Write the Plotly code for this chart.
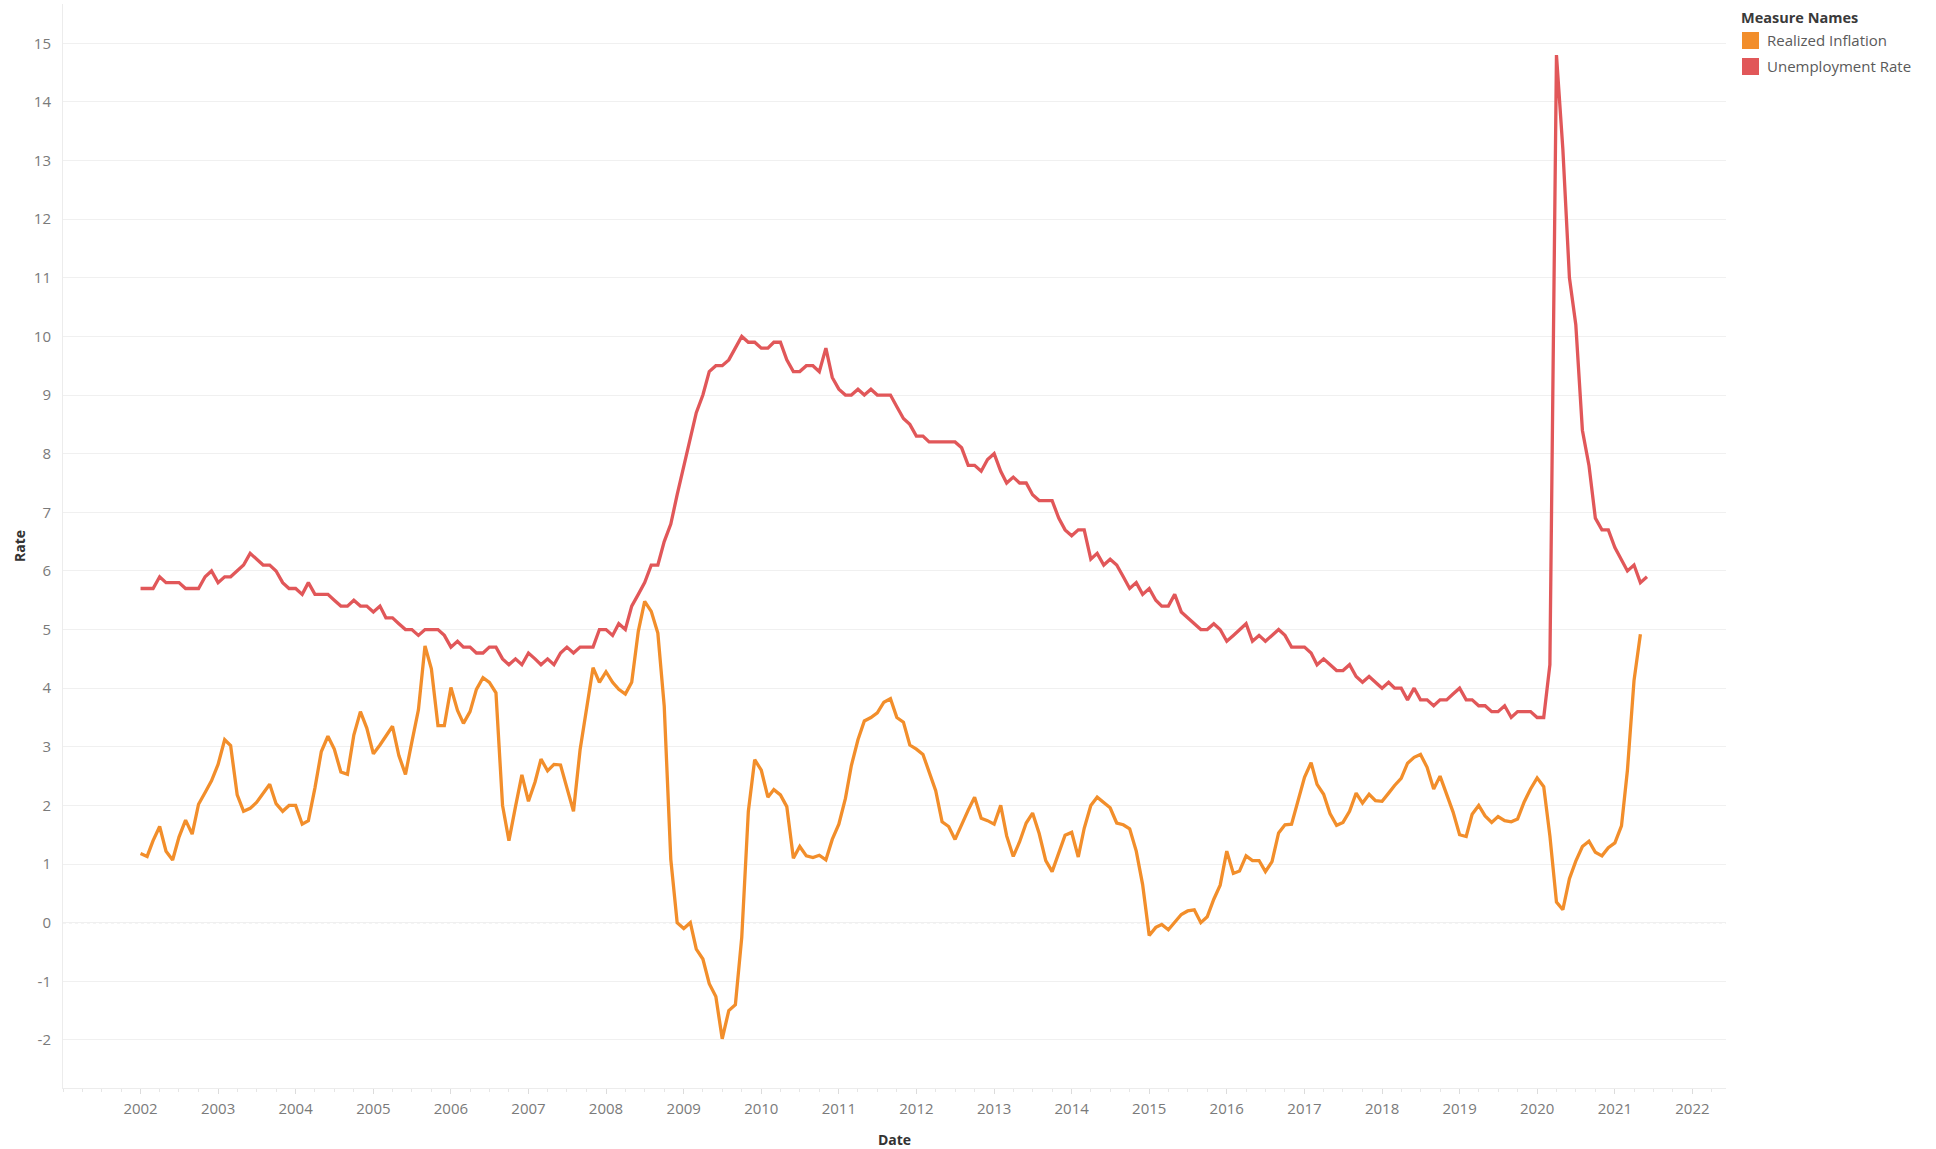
import pandas as pd
import plotly.graph_objects as go

# ---- data ----
start_month = "2002-01-01"

unemployment_rate = [
    5.7, 5.7, 5.7, 5.9, 5.8, 5.8, 5.8, 5.7, 5.7, 5.7, 5.9, 6.0,   # 2002
    5.8, 5.9, 5.9, 6.0, 6.1, 6.3, 6.2, 6.1, 6.1, 6.0, 5.8, 5.7,   # 2003
    5.7, 5.6, 5.8, 5.6, 5.6, 5.6, 5.5, 5.4, 5.4, 5.5, 5.4, 5.4,   # 2004
    5.3, 5.4, 5.2, 5.2, 5.1, 5.0, 5.0, 4.9, 5.0, 5.0, 5.0, 4.9,   # 2005
    4.7, 4.8, 4.7, 4.7, 4.6, 4.6, 4.7, 4.7, 4.5, 4.4, 4.5, 4.4,   # 2006
    4.6, 4.5, 4.4, 4.5, 4.4, 4.6, 4.7, 4.6, 4.7, 4.7, 4.7, 5.0,   # 2007
    5.0, 4.9, 5.1, 5.0, 5.4, 5.6, 5.8, 6.1, 6.1, 6.5, 6.8, 7.3,   # 2008
    7.8, 8.3, 8.7, 9.0, 9.4, 9.5, 9.5, 9.6, 9.8, 10.0, 9.9, 9.9,  # 2009
    9.8, 9.8, 9.9, 9.9, 9.6, 9.4, 9.4, 9.5, 9.5, 9.4, 9.8, 9.3,   # 2010
    9.1, 9.0, 9.0, 9.1, 9.0, 9.1, 9.0, 9.0, 9.0, 8.8, 8.6, 8.5,   # 2011
    8.3, 8.3, 8.2, 8.2, 8.2, 8.2, 8.2, 8.1, 7.8, 7.8, 7.7, 7.9,   # 2012
    8.0, 7.7, 7.5, 7.6, 7.5, 7.5, 7.3, 7.2, 7.2, 7.2, 6.9, 6.7,   # 2013
    6.6, 6.7, 6.7, 6.2, 6.3, 6.1, 6.2, 6.1, 5.9, 5.7, 5.8, 5.6,   # 2014
    5.7, 5.5, 5.4, 5.4, 5.6, 5.3, 5.2, 5.1, 5.0, 5.0, 5.1, 5.0,   # 2015
    4.8, 4.9, 5.0, 5.1, 4.8, 4.9, 4.8, 4.9, 5.0, 4.9, 4.7, 4.7,   # 2016
    4.7, 4.6, 4.4, 4.5, 4.4, 4.3, 4.3, 4.4, 4.2, 4.1, 4.2, 4.1,   # 2017
    4.0, 4.1, 4.0, 4.0, 3.8, 4.0, 3.8, 3.8, 3.7, 3.8, 3.8, 3.9,   # 2018
    4.0, 3.8, 3.8, 3.7, 3.7, 3.6, 3.6, 3.7, 3.5, 3.6, 3.6, 3.6,   # 2019
    3.5, 3.5, 4.4, 14.8, 13.2, 11.0, 10.2, 8.4, 7.8, 6.9, 6.7, 6.7,  # 2020
    6.4, 6.2, 6.0, 6.1, 5.8, 5.9,                                  # 2021
]

realized_inflation = [
    1.18, 1.13, 1.40, 1.64, 1.22, 1.07, 1.46, 1.75, 1.51, 2.02, 2.22, 2.42,      # 2002
    2.70, 3.12, 3.02, 2.18, 1.90, 1.95, 2.05, 2.20, 2.36, 2.03, 1.90, 2.00,      # 2003
    2.00, 1.68, 1.74, 2.30, 2.92, 3.18, 2.96, 2.57, 2.53, 3.20, 3.60, 3.32,      # 2004
    2.88, 3.03, 3.18, 3.35, 2.85, 2.53, 3.08, 3.63, 4.72, 4.33, 3.36, 3.36,      # 2005
    4.01, 3.62, 3.40, 3.60, 3.98, 4.18, 4.10, 3.92, 2.00, 1.40, 1.98, 2.52,      # 2006
    2.07, 2.40, 2.79, 2.59, 2.70, 2.69, 2.30, 1.90, 2.95, 3.65, 4.35, 4.10,      # 2007
    4.28, 4.10, 3.98, 3.90, 4.10, 4.97, 5.48, 5.31, 4.94, 3.70, 1.08, 0.00,      # 2008
    -0.10, 0.00, -0.45, -0.62, -1.04, -1.26, -1.98, -1.50, -1.40, -0.25, 1.90, 2.78,  # 2009
    2.60, 2.14, 2.27, 2.18, 1.98, 1.10, 1.30, 1.14, 1.11, 1.15, 1.07, 1.42,      # 2010
    1.68, 2.12, 2.68, 3.12, 3.44, 3.50, 3.58, 3.76, 3.82, 3.50, 3.42, 3.03,      # 2011
    2.96, 2.87, 2.55, 2.25, 1.72, 1.64, 1.42, 1.68, 1.92, 2.14, 1.78, 1.74,      # 2012
    1.68, 2.00, 1.48, 1.13, 1.38, 1.70, 1.87, 1.52, 1.06, 0.87, 1.20, 1.49,      # 2013
    1.54, 1.12, 1.61, 2.00, 2.14, 2.04, 1.96, 1.70, 1.67, 1.60, 1.22, 0.65,      # 2014
    -0.22, -0.08, -0.03, -0.12, 0.00, 0.14, 0.20, 0.22, 0.00, 0.10, 0.40, 0.64,  # 2015
    1.22, 0.84, 0.88, 1.14, 1.06, 1.06, 0.87, 1.04, 1.53, 1.67, 1.68, 2.05,      # 2016
    2.48, 2.73, 2.36, 2.19, 1.86, 1.66, 1.71, 1.90, 2.21, 2.04, 2.19, 2.08,      # 2017
    2.07, 2.21, 2.34, 2.46, 2.72, 2.82, 2.87, 2.65, 2.28, 2.50, 2.17, 1.89,      # 2018
    1.50, 1.47, 1.85, 2.00, 1.82, 1.71, 1.81, 1.74, 1.72, 1.77, 2.06, 2.28,      # 2019
    2.47, 2.32, 1.48, 0.35, 0.22, 0.75, 1.05, 1.30, 1.39, 1.20, 1.14, 1.28,      # 2020
    1.36, 1.65, 2.60, 4.13, 4.92,                                                # 2021
]

series_names = ["Realized Inflation", "Unemployment Rate"]
series_colors = ["#F28E2B", "#E15759"]
legend_title = "Measure Names"
y_tick_values = list(range(-2, 16))
y_tick_labels = [str(v) for v in y_tick_values]   # plain hyphen minus, as in the original
x_tick_years = list(range(2002, 2023))

dates_u = pd.date_range(start_month, periods=len(unemployment_rate), freq="MS")
dates_i = pd.date_range(start_month, periods=len(realized_inflation), freq="MS")
x_tick_dates = [f"{y}-01-01" for y in x_tick_years]

FONT = "'Open Sans', sans-serif"
W, H = 1936, 1149
ML, MR, MT, MB = 63, 210, 4, 61
PW, PH = W - ML - MR, H - MT - MB


def px_x(px):
    return (px - ML) / PW


def px_y(py):
    return (H - MB - py) / PH


fig = go.Figure()

fig.add_trace(go.Scatter(x=dates_i, y=realized_inflation, mode="lines",
                         name=series_names[0],
                         line=dict(color=series_colors[0], width=3.3)))
fig.add_trace(go.Scatter(x=dates_u, y=unemployment_rate, mode="lines",
                         name=series_names[1],
                         line=dict(color=series_colors[1], width=3.3)))

# dotted zero reference line
fig.add_shape(type="line", xref="paper", x0=0, x1=1, yref="y", y0=0, y1=0,
              line=dict(color="#b8b8b8", width=1, dash="dot"), layer="below")

# legend (Tableau-style colour swatches)
fig.add_annotation(xref="paper", yref="paper", x=px_x(1739), y=px_y(17.5),
                   xanchor="left", yanchor="middle", showarrow=False,
                   text=f"<b>{legend_title}</b>",
                   font=dict(family=FONT, size=14.5, color="#3a3a3a"))
for i, (name, col) in enumerate(zip(series_names, series_colors)):
    cy = 40.5 + i * 26
    fig.add_shape(type="rect", xref="paper", yref="paper",
                  x0=px_x(1742), x1=px_x(1759), y0=px_y(cy + 8.5), y1=px_y(cy - 8.5),
                  fillcolor=col, line=dict(width=0))
    fig.add_annotation(xref="paper", yref="paper", x=px_x(1765), y=px_y(cy),
                       xanchor="left", yanchor="middle", showarrow=False,
                       text=name, font=dict(family=FONT, size=15, color="#5a5a5a"))

fig.update_layout(
    width=W, height=H,
    margin=dict(l=ML, r=MR, t=MT, b=MB),
    paper_bgcolor="white", plot_bgcolor="white",
    showlegend=False,
    font=dict(family=FONT, size=15, color="#7a7a7a"),
    xaxis=dict(
        type="date", automargin=False,
        range=["2001-01-01", "2022-06-08"],
        tickmode="array", tickvals=x_tick_dates, ticktext=[str(y) for y in x_tick_years],
        showgrid=False, zeroline=False,
        showline=True, linecolor="#ececec", linewidth=1,
        ticks="outside", ticklen=5, tickcolor="#dcdcdc", tickwidth=1,
        ticklabelstandoff=2,
        minor=dict(dtick="M3", tick0="2001-01-01", ticks="outside", ticklen=3,
                   tickcolor="#e6e6e6", showgrid=False),
        tickfont=dict(size=15, color="#7a7a7a"),
        title=dict(text="<b>Date</b>", font=dict(size=14, color="#333333"), standoff=18),
    ),
    yaxis=dict(
        automargin=False,
        range=[-2.82, 15.67],
        tickmode="array", tickvals=y_tick_values, ticktext=y_tick_labels,
        showgrid=True, gridcolor="#f0f0f0", gridwidth=1,
        zeroline=False,
        showline=True, linecolor="#ececec", linewidth=1,
        ticks="", ticklabelstandoff=8,
        tickfont=dict(size=15, color="#7a7a7a"),
        title=dict(text="<b>Rate</b>", font=dict(size=14, color="#333333"), standoff=4),
    ),
)

fig.write_html("out.html", config={"displayModeBar": False},
               post_script="document.body.style.margin='0';")
